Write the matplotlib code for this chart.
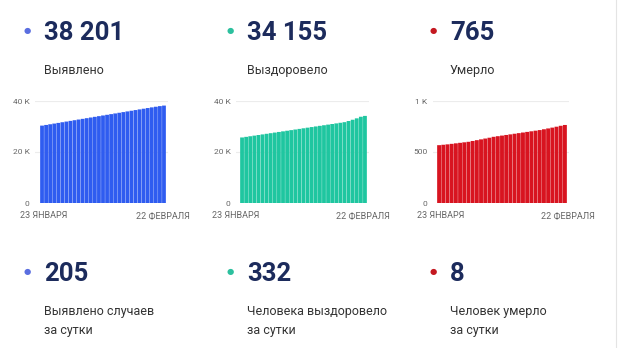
import matplotlib
matplotlib.use("Agg")
import matplotlib.pyplot as plt

# cumulative values, 23 Jan .. 22 Feb (31 days)
cases = [30350, 30615, 30880, 31145, 31410, 31675, 31940, 32205, 32470, 32735,
         33000, 33265, 33530, 33795, 34060, 34325, 34590, 34855, 35120, 35385,
         35650, 35915, 36180, 36445, 36710, 36975, 37240, 37500, 37750, 37996, 38201]
recovered = [25700, 25940, 26180, 26420, 26660, 26900, 27140, 27380, 27620, 27860,
             28100, 28340, 28580, 28820, 29060, 29300, 29540, 29780, 30020, 30260,
             30500, 30740, 30980, 31220, 31460, 31700, 32150, 32650, 33200, 33823, 34155]
deaths = [567, 571, 575, 580, 585, 590, 595, 600, 608, 616,
          624, 632, 640, 649, 655, 661, 667, 673, 679, 685,
          691, 697, 703, 709, 715, 723, 731, 739, 748, 757, 765]

totals = ["38 201", "34 155", "765"]
total_labels = ["Выявлено", "Выздоровело", "Умерло"]
daily = ["205", "332", "8"]
daily_labels = ["Выявлено случаев", "Человека выздоровело", "Человек умерло"]
daily_sub = "за сутки"
series = [cases, recovered, deaths]
yticks = [[0, 20000, 40000], [0, 20000, 40000], [0, 500, 1000]]
yticklabels = [["0", "20 K", "40 K"], ["0", "20 K", "40 K"], ["0", "500", "1 K"]]
date_first, date_last = "23 ЯНВАРЯ", "22 ФЕВРАЛЯ"

bar_colors = ["#2f5cf0", "#1fc6a0", "#d81420"]
dot_colors = ["#5a6ee0", "#2cc09e", "#c41820"]
navy = "#1c2b5c"

W, H = 620, 348
plt.rcParams['font.family'] = ['Roboto', 'DejaVu Sans']
fig = plt.figure(figsize=(W / 100, H / 100), dpi=100)
fig.patch.set_facecolor("white")


def fx(x):
    return x / W


def fy(y):
    return 1 - y / H


col_x = [44, 247, 450]
axes_box = [(35, 168), (236, 369), (433, 569)]
bars_box = [(40, 166), (240, 367), (437, 567)]
date_box = [(20, 190), (212, 390), (417, 595)]

for i in range(3):
    x0 = col_x[i]
    # top row: totals
    fig.text(fx(x0 - 17), fy(31), "\u25CF", color=dot_colors[i], fontsize=6,
             ha="center", va="center")
    fig.text(fx(x0), fy(40), totals[i], color=navy, fontsize=18.5,
             fontweight="bold", ha="left", va="baseline")
    fig.text(fx(x0), fy(74), total_labels[i], color="#333333", fontsize=9,
             ha="left", va="baseline")

    # bottom row: daily
    fig.text(fx(x0 - 17), fy(272), "\u25CF", color=dot_colors[i], fontsize=6,
             ha="center", va="center")
    fig.text(fx(x0), fy(281), daily[i], color=navy, fontsize=18.5,
             fontweight="bold", ha="left", va="baseline")
    fig.text(fx(x0), fy(315), daily_labels[i], color="#333333", fontsize=9,
             ha="left", va="baseline")
    fig.text(fx(x0), fy(334), daily_sub, color="#333333", fontsize=9,
             ha="left", va="baseline")

    # mini bar chart
    a0, a1 = axes_box[i]
    top, bottom = 101, 203
    ax = fig.add_axes([fx(a0), fy(bottom), (a1 - a0) / W, (bottom - top) / H])
    n = len(series[i])
    b0, b1 = bars_box[i]
    per = (b1 - b0) / n
    ax.set_xlim(-0.5 - (b0 - a0) / per, n - 0.5 + (a1 - b1) / per)
    ax.set_ylim(0, yticks[i][-1])
    for v in yticks[i][1:]:
        ax.axhline(v, color="#ececec", lw=0.8, zorder=0)
    ax.bar(range(n), series[i], width=0.93, color=bar_colors[i],
           edgecolor="none", zorder=2, snap=False)
    ax.set_yticks(yticks[i])
    ax.set_yticklabels(yticklabels[i])
    ax.set_xticks([])
    ax.tick_params(axis="y", length=0, pad=4, labelsize=6, labelcolor="#666666")
    for s in ax.spines.values():
        s.set_visible(False)
    ax.patch.set_alpha(0)

    d0, d1 = date_box[i]
    fig.text(fx(d0), fy(216), date_first, fontsize=6.5, color="#666666",
             ha="left", va="center")
    fig.text(fx(d1), fy(216), date_last, fontsize=6.5, color="#666666",
             ha="right", va="center")

# faint frame line on the right edge
fig.add_artist(plt.Line2D([fx(616), fx(616)], [0, 1], color="#e4e4e4", lw=0.8))

fig.savefig("out.png", dpi=100, facecolor="white")
